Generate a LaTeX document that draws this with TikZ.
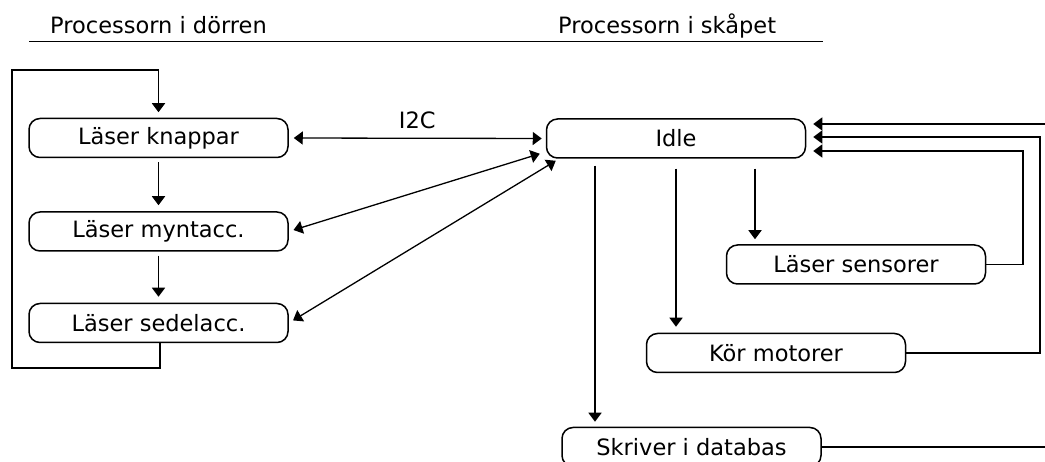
\documentclass[tikz,border=0pt]{standalone}
\usepackage{fontspec}
\setmainfont{DejaVu Sans}
\usetikzlibrary{arrows.meta,calc}
\tikzset{
  box/.style={draw, line width=1.5pt, rounded corners=11pt, minimum width=259pt, minimum height=39pt, inner sep=0pt, font=\fontsize{22.5}{26}\selectfont},
  lbl/.style={inner sep=0pt, font=\fontsize{22.5}{26}\selectfont},
  ln/.style={line width=1.5pt},
  arr/.style={line width=1.5pt, -{Triangle[length=9pt,width=13pt]}},
  biarr/.style={line width=1.3pt, {Triangle[length=9pt,width=13pt]}-{Triangle[length=9pt,width=13pt]}},
}
\begin{document}
\begin{tikzpicture}[x=1pt,y=-1pt]
\useasboundingbox (0,0) rectangle (1045,462);
\clip (0,0) rectangle (1045,462);
\fill[white] (0,0) rectangle (1045,462);

% headers
\node[lbl, anchor=base west] (h1) at (50,34) {Processorn i dörren};
\node[lbl, anchor=base west] (h2) at (558,34) {Processorn i skåpet};
\coordinate (ul1) at (29,41.5);
\coordinate (ul2) at (823,41.5);
\draw[ln] (ul1) -- (ul2);

% boxes
\node[box] (knappar) at (158.5,138) {Läser knappar};
\node[box] (mynt) at (158.5,231.5) {Läser myntacc.};
\node[box] (sedel) at (158.5,323) {Läser sedelacc.};
\node[box] (idle) at (676,138.5) {Idle};
\node[box] (sens) at (856,264.5) {Läser sensorer};
\node[box] (motor) at (776,353) {Kör motorer};
\node[box] (db) at (691.5,447) {Skriver i databas};

% left loop
\coordinate (lb) at (12,368);
\coordinate (lt) at (12,70);
\draw[arr, shorten >=5.5pt] ([xshift=1.5pt]sedel.south) |- (lb) -- (lt) -| (knappar.north);
\draw[arr, shorten <=4pt, shorten >=6pt] (knappar.south) -- (mynt.north);
\draw[arr, shorten <=4pt, shorten >=6pt] (mynt.south) -- (sedel.north);

% I2C links
\coordinate (im) at ($(idle.south west)+(-6,-5)$);
\coordinate (is) at ($(idle.south west)+(10,2)$);
\draw[biarr, shorten <=5pt, shorten >=4pt] (knappar.east) -- (idle.west)
  node[lbl, pos=0.5, above=9pt] (i2c) {I2C};
\draw[biarr, shorten <=5pt] (mynt.east) -- (im);
\draw[biarr, shorten <=5pt] (sedel.east) -- (is);

% idle down arrows
\coordinate (a1) at ($(idle.south)+(-81,7)$);
\coordinate (a2) at ($(idle.south)+(0,10)$);
\coordinate (a3) at ($(idle.south)+(79,10)$);
\draw[arr, shorten >=5pt] (a1) -- (a1 |- db.north);
\draw[arr, shorten >=6pt] (a2) -- (a2 |- motor.north);
\draw[arr, shorten >=5pt] (a3) -- (a3 |- sens.north);

% returns to idle
\coordinate (r1) at (1045,124);
\coordinate (m1) at (1040,137);
\coordinate (s1) at (1023,151);
\draw[arr, shorten >=7pt] (r1) -- (idle.east |- r1);
\draw[arr, shorten >=7pt] (motor.east) -| (m1) -- (idle.east |- m1);
\draw[arr, shorten >=7pt] (sens.east) -| (s1) -- (idle.east |- s1);
\coordinate (d1) at (1045,447);
\draw[ln] (db.east) -- (d1);
\end{tikzpicture}
\end{document}
